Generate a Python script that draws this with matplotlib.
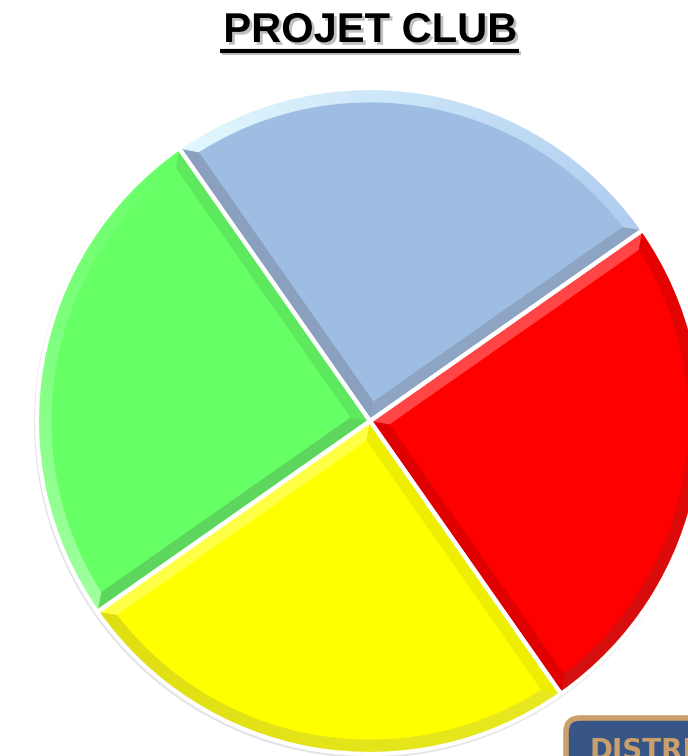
import numpy as np
import matplotlib
matplotlib.use('Agg')
import matplotlib.pyplot as plt
import matplotlib.patheffects as pe
from matplotlib.patches import Polygon, Circle, FancyBboxPatch

# chart data
title = 'PROJET CLUB'
values = [25, 25, 25, 25]
faces = ['#9dbde3', '#66ff66', '#ffff00', '#ff0000']
# bevel colours: edge at start angle, edge at end angle, arc band (start side, end side)
edge_start = ['#8da4c2', '#5ee85e', '#ffff45', '#e00000']
edge_end = ['#8aa0be', '#5cd65c', '#eeee00', '#ff4545']
arc_start = ['#b0cdef', '#66ff66', '#dede12', '#d41010']
arc_end = ['#e2f8ff', '#a0ffa0', '#e8e820', '#e60000']
logo_text = 'DISTRICT'

W, H = 688, 756
cx, cy, R = 370, H - 421, 333
d = 14  # bevel width

fig = plt.figure(figsize=(W / 100, H / 100), dpi=100)
ax = fig.add_axes([0, 0, 1, 1])

# faint rim shadow
ax.add_patch(Circle((cx - 1, cy - 2), R + 2, facecolor='#e4e4e4', edgecolor='none', zorder=0))

wedges, _ = ax.pie(values, colors=faces, startangle=35, counterclock=True,
                   center=(cx, cy), radius=R, frame=True,
                   wedgeprops=dict(edgecolor='none', linewidth=0))


def pt(r, a):
    return (cx + r * np.cos(np.radians(a)), cy + r * np.sin(np.radians(a)))


def mix(c1, c2, t):
    a = np.array(matplotlib.colors.to_rgb(c1))
    b = np.array(matplotlib.colors.to_rgb(c2))
    return tuple(a + (b - a) * t)


for i, w in enumerate(wedges):
    t1, t2 = w.theta1, w.theta2
    half = (t2 - t1) / 2
    vr = d / np.sin(np.radians(half))
    V = pt(vr, t1 + half)
    delta = np.degrees(np.arcsin(d / (R - d)))
    # radial edge bands
    ax.add_patch(Polygon([(cx, cy), pt(R, t1), pt(R - d, t1 + delta), V],
                         closed=True, facecolor=edge_start[i], edgecolor='none', zorder=3))
    ax.add_patch(Polygon([(cx, cy), pt(R, t2), pt(R - d, t2 - delta), V],
                         closed=True, facecolor=edge_end[i], edgecolor='none', zorder=3))
    # arc band as small gradient pieces
    n = 40
    outer = np.linspace(t1, t2, n + 1)
    inner = np.linspace(t1 + delta, t2 - delta, n + 1)
    for k in range(n):
        c = mix(arc_start[i], arc_end[i], k / n)
        poly = [pt(R, outer[k]), pt(R, outer[k + 1]),
                pt(R - d, inner[k + 1]), pt(R - d, inner[k])]
        ax.add_patch(Polygon(poly, closed=True, facecolor=c, edgecolor=c,
                             linewidth=0.5, zorder=3))

# white separators
sep, _ = ax.pie(values, startangle=35, counterclock=True, center=(cx, cy), radius=R,
                frame=True, wedgeprops=dict(facecolor='none', edgecolor='white', linewidth=3))
for s in sep:
    s.set_zorder(4)

ax.set_xlim(0, W)
ax.set_ylim(0, H)
ax.set_aspect('equal')
ax.axis('off')

# title
ax.text(370, H - 31, title, ha='center', va='center', fontsize=30, fontweight='bold',
        family='Liberation Sans', color='black', zorder=6,
        path_effects=[pe.SimplePatchShadow(offset=(2, -2), shadow_rgbFace='gray', alpha=0.5),
                      pe.Normal()])
ax.plot([222, 521], [H - 53, H - 53], color='#888888', linewidth=3, alpha=0.5,
        solid_capstyle='butt', zorder=5)
ax.plot([220, 519], [H - 51, H - 51], color='black', linewidth=3, solid_capstyle='butt', zorder=6)

# partial logo at bottom right
ax.add_patch(FancyBboxPatch((566, -60), 200, 98, boxstyle='round,pad=0,rounding_size=14',
                            facecolor='#375586', edgecolor='#c9a06c', linewidth=4, zorder=6))
ax.text(590, -3, logo_text, ha='left', va='baseline', fontsize=20, fontweight='bold',
        family='DejaVu Sans', color='#c9a06c', zorder=7, clip_on=True)

fig.savefig('out.png', dpi=100)
